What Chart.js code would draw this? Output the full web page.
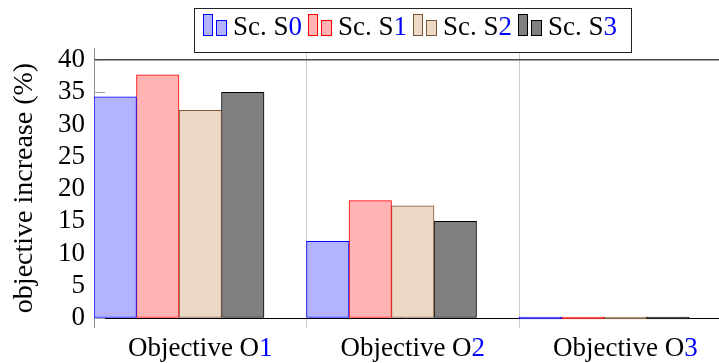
<!DOCTYPE html>
<html>
<head>
<meta charset="utf-8">
<script src="https://cdn.jsdelivr.net/npm/chart.js@4/dist/chart.umd.min.js"></script>
<style>
  html, body { margin: 0; padding: 0; background: #fff; }
  canvas { display: block; }
</style>
</head>
<body>
<canvas id="c" width="719" height="363"></canvas>
<script>
// Objective increase per scenario, one array per scenario
const categories = ['Objective O1', 'Objective O2', 'Objective O3'];
const seriesNames = ['Sc. S0', 'Sc. S1', 'Sc. S2', 'Sc. S3'];
const s0 = [34.3, 11.9, 0];
const s1 = [37.7, 18.2, 0];
const s2 = [32.2, 17.4, 0];
const s3 = [35.0, 15.0, 0];
const yTicks = [0, 5, 10, 15, 20, 25, 30, 35, 40];

const FONT = '"Liberation Serif", serif';
const fills = ['#b3b3ff', '#ffb3b3', '#ebd9c6', '#808080'];
const edges = ['#0000ff', '#ff0000', '#7b5533', '#000000'];
const accent = '#0000ff';

const seriesValues = [s0, s1, s2, s3];
const datasets = seriesValues.map((vals, k) => ({
  label: seriesNames[k],
  data: vals.map((v, i) => ({ x: i, y: v })),
  backgroundColor: fills[k],
  borderColor: edges[k],
  borderWidth: 1,
  borderSkipped: false,
  minBarLength: 2
}));
// empty fifth slot: each group of four bars leaves one bar-width gap to the right
datasets.push({
  label: '',
  data: categories.map((_, i) => ({ x: i, y: null })),
  backgroundColor: 'transparent',
  borderWidth: 0
});

// draw text whose last character is set in the accent colour
function drawSplit(ctx, text, x, y, align) {
  const head = text.slice(0, -1), tail = text.slice(-1);
  const wHead = ctx.measureText(head).width;
  const wTail = ctx.measureText(tail).width;
  let x0 = x;
  if (align === 'center') x0 = x - (wHead + wTail) / 2;
  ctx.textAlign = 'left';
  ctx.fillStyle = '#000';
  ctx.fillText(head, x0, y);
  ctx.fillStyle = accent;
  ctx.fillText(tail, x0 + wHead, y);
}

const decorations = {
  id: 'decorations',
  beforeDatasetsDraw(chart) {
    // short inward tick marks on the value axis
    const { ctx, chartArea, scales } = chart;
    ctx.save();
    ctx.strokeStyle = '#a0a0a0';
    ctx.lineWidth = 1;
    yTicks.forEach(v => {
      const py = Math.round(scales.y.getPixelForValue(v)) + 0.5;
      ctx.beginPath();
      ctx.moveTo(chartArea.left, py);
      ctx.lineTo(chartArea.left + 11, py);
      ctx.stroke();
    });
    ctx.restore();
  },
  afterDraw(chart) {
    const { ctx, scales } = chart;
    ctx.save();
    // category labels
    ctx.font = '27px ' + FONT;
    ctx.textBaseline = 'alphabetic';
    categories.forEach((c, i) => {
      drawSplit(ctx, c, scales.x.getPixelForValue(i), 356, 'center');
    });
    // legend
    ctx.fillStyle = '#fff';
    ctx.fillRect(194.5, 8.5, 437, 44);
    ctx.strokeStyle = '#222';
    ctx.lineWidth = 1;
    ctx.strokeRect(194.5, 8.5, 437, 44);
    seriesNames.forEach((name, k) => {
      const x = 203 + k * 105;
      ctx.fillStyle = fills[k];
      ctx.strokeStyle = edges[k];
      ctx.fillRect(x, 14, 9, 21);
      ctx.strokeRect(x + 0.5, 14.5, 9, 21);
      ctx.fillRect(x + 13, 20, 10, 15);
      ctx.strokeRect(x + 13.5, 20.5, 10, 15);
      ctx.font = '27px ' + FONT;
      ctx.textBaseline = 'alphabetic';
      drawSplit(ctx, name, x + 30, 35, 'left');
    });
    ctx.restore();
  }
};

new Chart(document.getElementById('c'), {
  type: 'bar',
  data: { datasets },
  options: {
    responsive: false,
    animation: false,
    categoryPercentage: 1.0,
    barPercentage: 1.0,
    layout: { padding: { top: 48, right: 0, bottom: 0, left: 0 } },
    plugins: { legend: { display: false }, tooltip: { enabled: false } },
    scales: {
      x: {
        type: 'linear',
        offset: false,
        min: -0.5,
        max: 2.441,
        afterBuildTicks: s => { s.ticks = categories.map((_, i) => ({ value: i - 0.5 })); },
        afterFit: s => { s.height = 35; },
        ticks: { display: false },
        grid: {
          offset: false,
          color: c => c.index === 0 ? '#8c8c8c' : '#cccccc',
          lineWidth: 1,
          drawTicks: false
        },
        border: { display: false }
      },
      y: {
        min: -1.55,
        max: 41.86,
        afterBuildTicks: s => { s.ticks = yTicks.map(v => ({ value: v })); },
        afterFit: s => { s.width = 94; },
        ticks: { color: '#000', font: { family: FONT, size: 27 }, padding: 9, autoSkip: false },
        grid: {
          drawTicks: false,
          color: c => !c.tick ? 'transparent' : c.tick.value === 0 ? '#000' : c.tick.value === 40 ? '#4a4a4a' : 'transparent',
          lineWidth: c => c.tick && c.tick.value === 40 ? 1.5 : 1
        },
        border: { display: false },
        title: {
          display: true,
          text: 'objective increase (%)',
          color: '#000',
          font: { family: FONT, size: 28 },
          padding: { top: 8, bottom: 0 }
        }
      }
    }
  },
  plugins: [decorations]
});
</script>
</body>
</html>
